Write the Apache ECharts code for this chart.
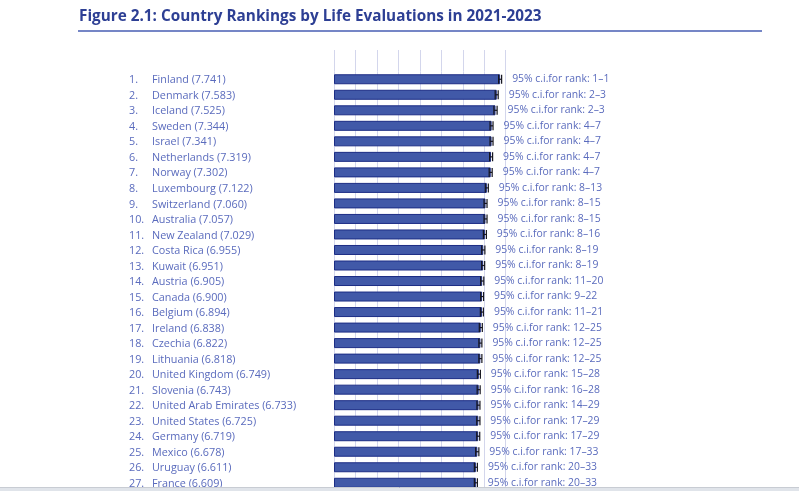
<!DOCTYPE html>
<html>
<head>
<meta charset="utf-8">
<script src="https://cdn.jsdelivr.net/npm/echarts@6/dist/echarts.min.js"></script>
<style>html,body{margin:0;padding:0;background:#fff}#c{width:799px;height:491px}</style>
</head>
<body>
<div id="c"></div>
<script>
const titleText = 'Figure 2.1: Country Rankings by Life Evaluations in 2021-2023';
const ranks = [1,2,3,4,5,6,7,8,9,10,11,12,13,14,15,16,17,18,19,20,21,22,23,24,25,26,27];
const countries = ['Finland','Denmark','Iceland','Sweden','Israel','Netherlands','Norway','Luxembourg','Switzerland','Australia','New Zealand','Costa Rica','Kuwait','Austria','Canada','Belgium','Ireland','Czechia','Lithuania','United Kingdom','Slovenia','United Arab Emirates','United States','Germany','Mexico','Uruguay','France'];
const scores = [7.741,7.583,7.525,7.344,7.341,7.319,7.302,7.122,7.060,7.057,7.029,6.955,6.951,6.905,6.900,6.894,6.838,6.822,6.818,6.749,6.743,6.733,6.725,6.719,6.678,6.611,6.609];
const ciLow  = [7.67,7.51,7.45,7.27,7.27,7.25,7.23,7.05,6.99,6.99,6.96,6.88,6.88,6.83,6.83,6.82,6.77,6.75,6.75,6.68,6.67,6.66,6.65,6.65,6.60,6.54,6.54];
const ciHigh = [7.81,7.65,7.60,7.41,7.41,7.39,7.37,7.19,7.13,7.13,7.10,7.03,7.02,6.98,6.97,6.96,6.91,6.89,6.89,6.82,6.81,6.80,6.80,6.79,6.75,6.68,6.68];
const rankCI = ['1–1','2–3','2–3','4–7','4–7','4–7','4–7','8–13','8–15','8–15','8–16','8–19','8–19','11–20','9–22','11–21','12–25','12–25','12–25','15–28','16–28','14–29','17–29','17–29','17–33','20–33','20–33'];
const xTicks = [0,1,2,3,4,5,6,7,8];

const FONT = 'Open Sans';
const TXT = '#5a6bbd';
const chart = echarts.init(document.getElementById('c'), null, {renderer: 'canvas'});

const labels = countries.map((c, i) => c + ' (' + scores[i].toFixed(3) + ')');
const gridLeft = 334, gridWidth = 171.7, gridTop = 71.5;

chart.setOption({
  animation: false,
  title: {
    text: titleText, left: 74, top: 4,
    textStyle: {fontFamily: FONT, fontSize: 15.3, fontWeight: 'bold', color: '#2d3f94'}
  },
  graphic: [
    {type: 'line', shape: {x1: 78, y1: 31, x2: 762, y2: 31}, style: {stroke: '#7586c6', lineWidth: 2}},
    {type: 'rect', shape: {x: 0, y: 488, width: 799, height: 3}, style: {fill: '#e0e4ea'}, z: 100},
    {type: 'line', shape: {x1: 0, y1: 487.5, x2: 799, y2: 487.5}, style: {stroke: '#c8ccd3', lineWidth: 1}, z: 100}
  ],
  grid: [
    {left: gridLeft, width: gridWidth, top: gridTop, height: 419.04},
    {left: gridLeft, width: gridWidth, top: 50, height: gridTop - 50}
  ],
  xAxis: [
    {type: 'value', gridIndex: 0, min: xTicks[0], max: xTicks[xTicks.length-1], interval: 1,
     axisLine: {show: false}, axisTick: {show: false}, axisLabel: {show: false},
     splitLine: {show: true, lineStyle: {color: '#d3d6ec', width: 1}}},
    {type: 'value', gridIndex: 1, min: xTicks[0], max: xTicks[xTicks.length-1], interval: 1,
     axisLine: {show: false}, axisTick: {show: false}, axisLabel: {show: false},
     splitLine: {show: true, lineStyle: {color: '#d3d6ec', width: 1}}}
  ],
  yAxis: [
    {type: 'category', gridIndex: 0, inverse: true, data: labels,
     axisLine: {show: false}, axisTick: {show: false},
     axisLabel: {
       interval: 0,
       margin: gridLeft - 129, align: 'left',
       formatter: (v, i) => '{r|' + ranks[i] + '.}{n|' + v + '}',
       rich: {
         r: {width: 23, fontFamily: FONT, fontSize: 10.8, color: TXT, padding: [2, 0, 0, 0]},
         n: {fontFamily: FONT, fontSize: 10.8, color: TXT, padding: [2, 0, 0, 0]}
       }
     }},
    {type: 'category', gridIndex: 1, data: [''], show: false}
  ],
  series: [
    {
      type: 'bar', xAxisIndex: 0, yAxisIndex: 0, data: scores, barWidth: 10,
      itemStyle: {color: '#4159a8', borderColor: '#1c2d85', borderWidth: 1},
      label: {
        show: true, position: 'right', distance: 12,
        formatter: p => '95% c.i.for rank: ' + rankCI[p.dataIndex],
        fontFamily: FONT, fontSize: 10.4, color: TXT, padding: [2, 0, 0, 0]
      }
    },
    {
      type: 'custom', xAxisIndex: 0, yAxisIndex: 0, z: 5,
      data: scores.map((s, i) => [ciLow[i], ciHigh[i], i]),
      renderItem: (params, api) => {
        const a = api.coord([api.value(0), api.value(2)]);
        const b = api.coord([api.value(1), api.value(2)]);
        const h = 4.5;
        const st = {stroke: '#15151f', lineWidth: 1.2};
        return {
          type: 'group', children: [
            {type: 'line', shape: {x1: a[0], y1: a[1], x2: b[0], y2: b[1]}, style: st},
            {type: 'line', shape: {x1: a[0], y1: a[1]-h, x2: a[0], y2: a[1]+h}, style: st},
            {type: 'line', shape: {x1: b[0], y1: b[1]-h, x2: b[0], y2: b[1]+h}, style: st}
          ]
        };
      }
    }
  ]
});
</script>
</body>
</html>
